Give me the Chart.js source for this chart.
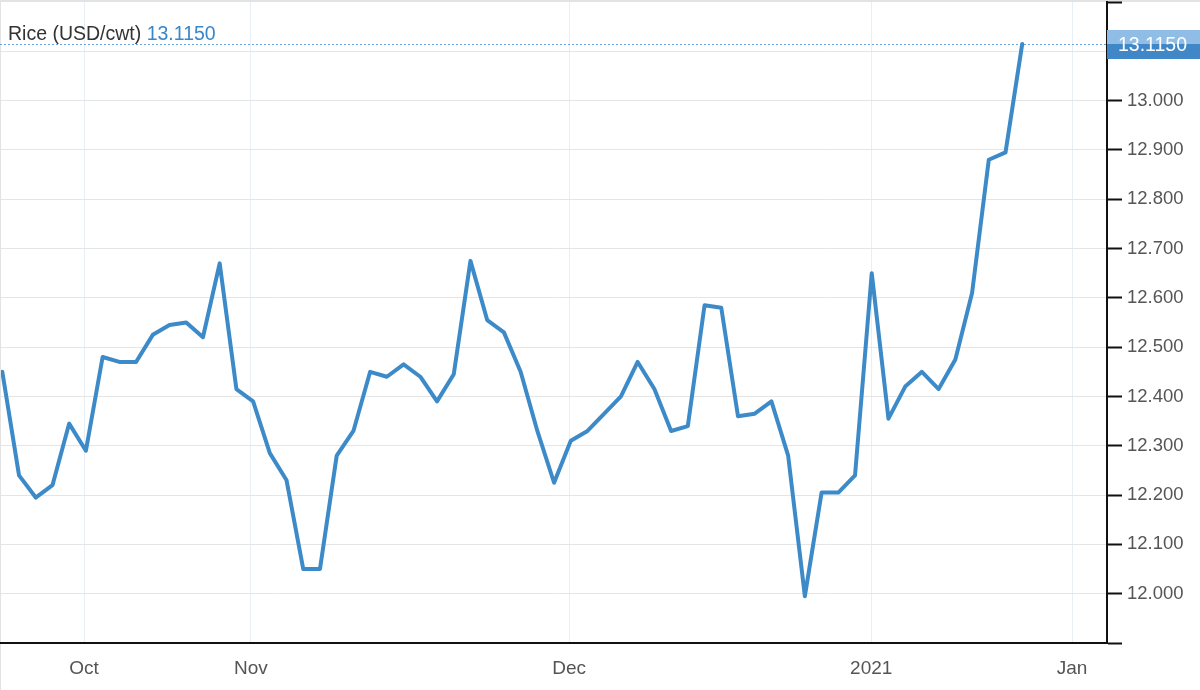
<!DOCTYPE html>
<html>
<head>
<meta charset="utf-8">
<title>Rice (USD/cwt)</title>
<script src="https://cdn.jsdelivr.net/npm/chart.js@4.4.1/dist/chart.umd.min.js"></script>
<style>
  html, body { margin: 0; padding: 0; background: #fff; }
  #chart { display: block; }
</style>
</head>
<body>
<canvas id="chart" width="1200" height="690"></canvas>
<script>
// --- DATA ---
const seriesName = "Rice (USD/cwt)";
const riceValues = [
  12.45, 12.24, 12.195, 12.22, 12.345, 12.29, 12.48, 12.47, 12.47, 12.525,
  12.545, 12.55, 12.52, 12.67, 12.415, 12.39, 12.285, 12.23, 12.05, 12.05,
  12.28, 12.33, 12.45, 12.44, 12.465, 12.44, 12.39, 12.445, 12.675, 12.555,
  12.53, 12.45, 12.33, 12.225, 12.31, 12.33, 12.365, 12.40, 12.47, 12.415,
  12.33, 12.34, 12.585, 12.58, 12.36, 12.365, 12.39, 12.28, 11.995, 12.205,
  12.205, 12.24, 12.65, 12.355, 12.42, 12.45, 12.415, 12.475, 12.61, 12.88,
  12.895, 13.115
];
// x tick positions are in observation units (one step per point)
const xTickPos = [4.89, 14.87, 33.9, 51.97, 63.98];
const xTickLabels = ["Oct", "Nov", "Dec", "2021", "Jan"];
const yTicks = [11.9, 12.0, 12.1, 12.2, 12.3, 12.4, 12.5, 12.6, 12.7, 12.8, 12.9, 13.0, 13.1, 13.2];
const yLabelled = [12.0, 13.0]; // labels only between these

// --- STYLE ---
const LINE_BLUE = "#3d8ac9";
const FONT = '"Liberation Sans", Arial, Helvetica, sans-serif';

const same = (a, b) => Math.abs(a - b) < 1e-6;
const isEdge = v => same(v, yTicks[0]) || same(v, yTicks[yTicks.length - 1]);

// page frame (grey top/left border of the widget)
const pageFrame = {
  id: "pageFrame",
  beforeDraw(chart) {
    const ctx = chart.ctx;
    ctx.save();
    ctx.fillStyle = "#e3e3e3";
    ctx.fillRect(0, 0, chart.width, 2);
    ctx.fillRect(0, 0, 1, chart.height);
    ctx.restore();
  }
};

// dotted last-value line, header and value box
const lastValue = {
  id: "lastValue",
  beforeDatasetsDraw(chart) {
    const ctx = chart.ctx;
    const y = Math.round(chart.scales.y.getPixelForValue(riceValues[riceValues.length - 1])) + 0.5;
    ctx.save();
    ctx.strokeStyle = "#6aa6db";
    ctx.lineWidth = 1;
    ctx.setLineDash([2, 2]);
    ctx.beginPath();
    ctx.moveTo(0, y);
    ctx.lineTo(chart.chartArea.right, y);
    ctx.stroke();
    ctx.restore();
  },
  afterDraw(chart) {
    const ctx = chart.ctx;
    const last = riceValues[riceValues.length - 1];
    const txt = last.toFixed(4);
    const y = Math.round(chart.scales.y.getPixelForValue(last));
    const left = chart.chartArea.right;

    ctx.save();
    // header
    ctx.font = "19.5px " + FONT;
    ctx.textBaseline = "alphabetic";
    ctx.fillStyle = "#333";
    ctx.fillText(seriesName, 8, 40);
    const w = ctx.measureText(seriesName + " ").width;
    ctx.fillStyle = "#3a87c8";
    ctx.fillText(txt, 8 + w, 40);

    // value box on the axis
    ctx.fillStyle = "#8fbde5";
    ctx.fillRect(left, y - 14, chart.width - left, 14);
    ctx.fillStyle = "#3f87c7";
    ctx.fillRect(left, y, chart.width - left, 15);
    ctx.fillStyle = "#fff";
    ctx.font = "19.5px " + FONT;
    ctx.fillText(txt, left + 11, y + 7);
    ctx.restore();
  }
};

new Chart(document.getElementById("chart"), {
  type: "line",
  data: {
    datasets: [{
      label: seriesName,
      data: riceValues.map((v, i) => ({ x: i, y: v })),
      borderColor: LINE_BLUE,
      borderWidth: 4,
      borderJoinStyle: "round",
      borderCapStyle: "round",
      pointRadius: 0,
      tension: 0,
      fill: false
    }]
  },
  options: {
    responsive: false,
    animation: false,
    devicePixelRatio: 1,
    layout: { padding: { top: 2, left: 1, right: 0, bottom: 0 } },
    plugins: { legend: { display: false }, tooltip: { enabled: false } },
    scales: {
      x: {
        type: "linear",
        min: -0.078,
        max: 66.07,
        afterBuildTicks: s => { s.ticks = xTickPos.map(v => ({ value: v })); },
        afterFit: s => { s.height = 47; s.paddingLeft = 0; s.paddingRight = 0; },
        grid: { color: "#e8eef6", lineWidth: 1, drawTicks: false },
        border: { color: "#111", width: 2 },
        ticks: {
          autoSkip: false,
          maxRotation: 0,
          padding: 14,
          color: "#555",
          font: { family: FONT, size: 19 },
          callback: (v, i) => xTickLabels[i]
        }
      },
      y: {
        position: "right",
        min: yTicks[0],
        max: yTicks[yTicks.length - 1],
        afterBuildTicks: s => { s.ticks = yTicks.map(v => ({ value: v })); },
        afterFit: s => { s.width = 93; s.paddingTop = 0; s.paddingBottom = 0; },
        grid: {
          color: c => (c.tick && isEdge(c.tick.value)) ? "rgba(0,0,0,0)" : "#e5e5e5",
          lineWidth: 1,
          tickColor: "#111",
          tickLength: 15,
          tickWidth: 2
        },
        border: { color: "#111", width: 2 },
        ticks: {
          padding: 5,
          color: "#555",
          font: { family: FONT, size: 18.5 },
          callback: v => (v > yLabelled[0] - 1e-6 && v < yLabelled[1] + 1e-6) ? v.toFixed(3) : ""
        }
      }
    }
  },
  plugins: [pageFrame, lastValue]
});
</script>
</body>
</html>
